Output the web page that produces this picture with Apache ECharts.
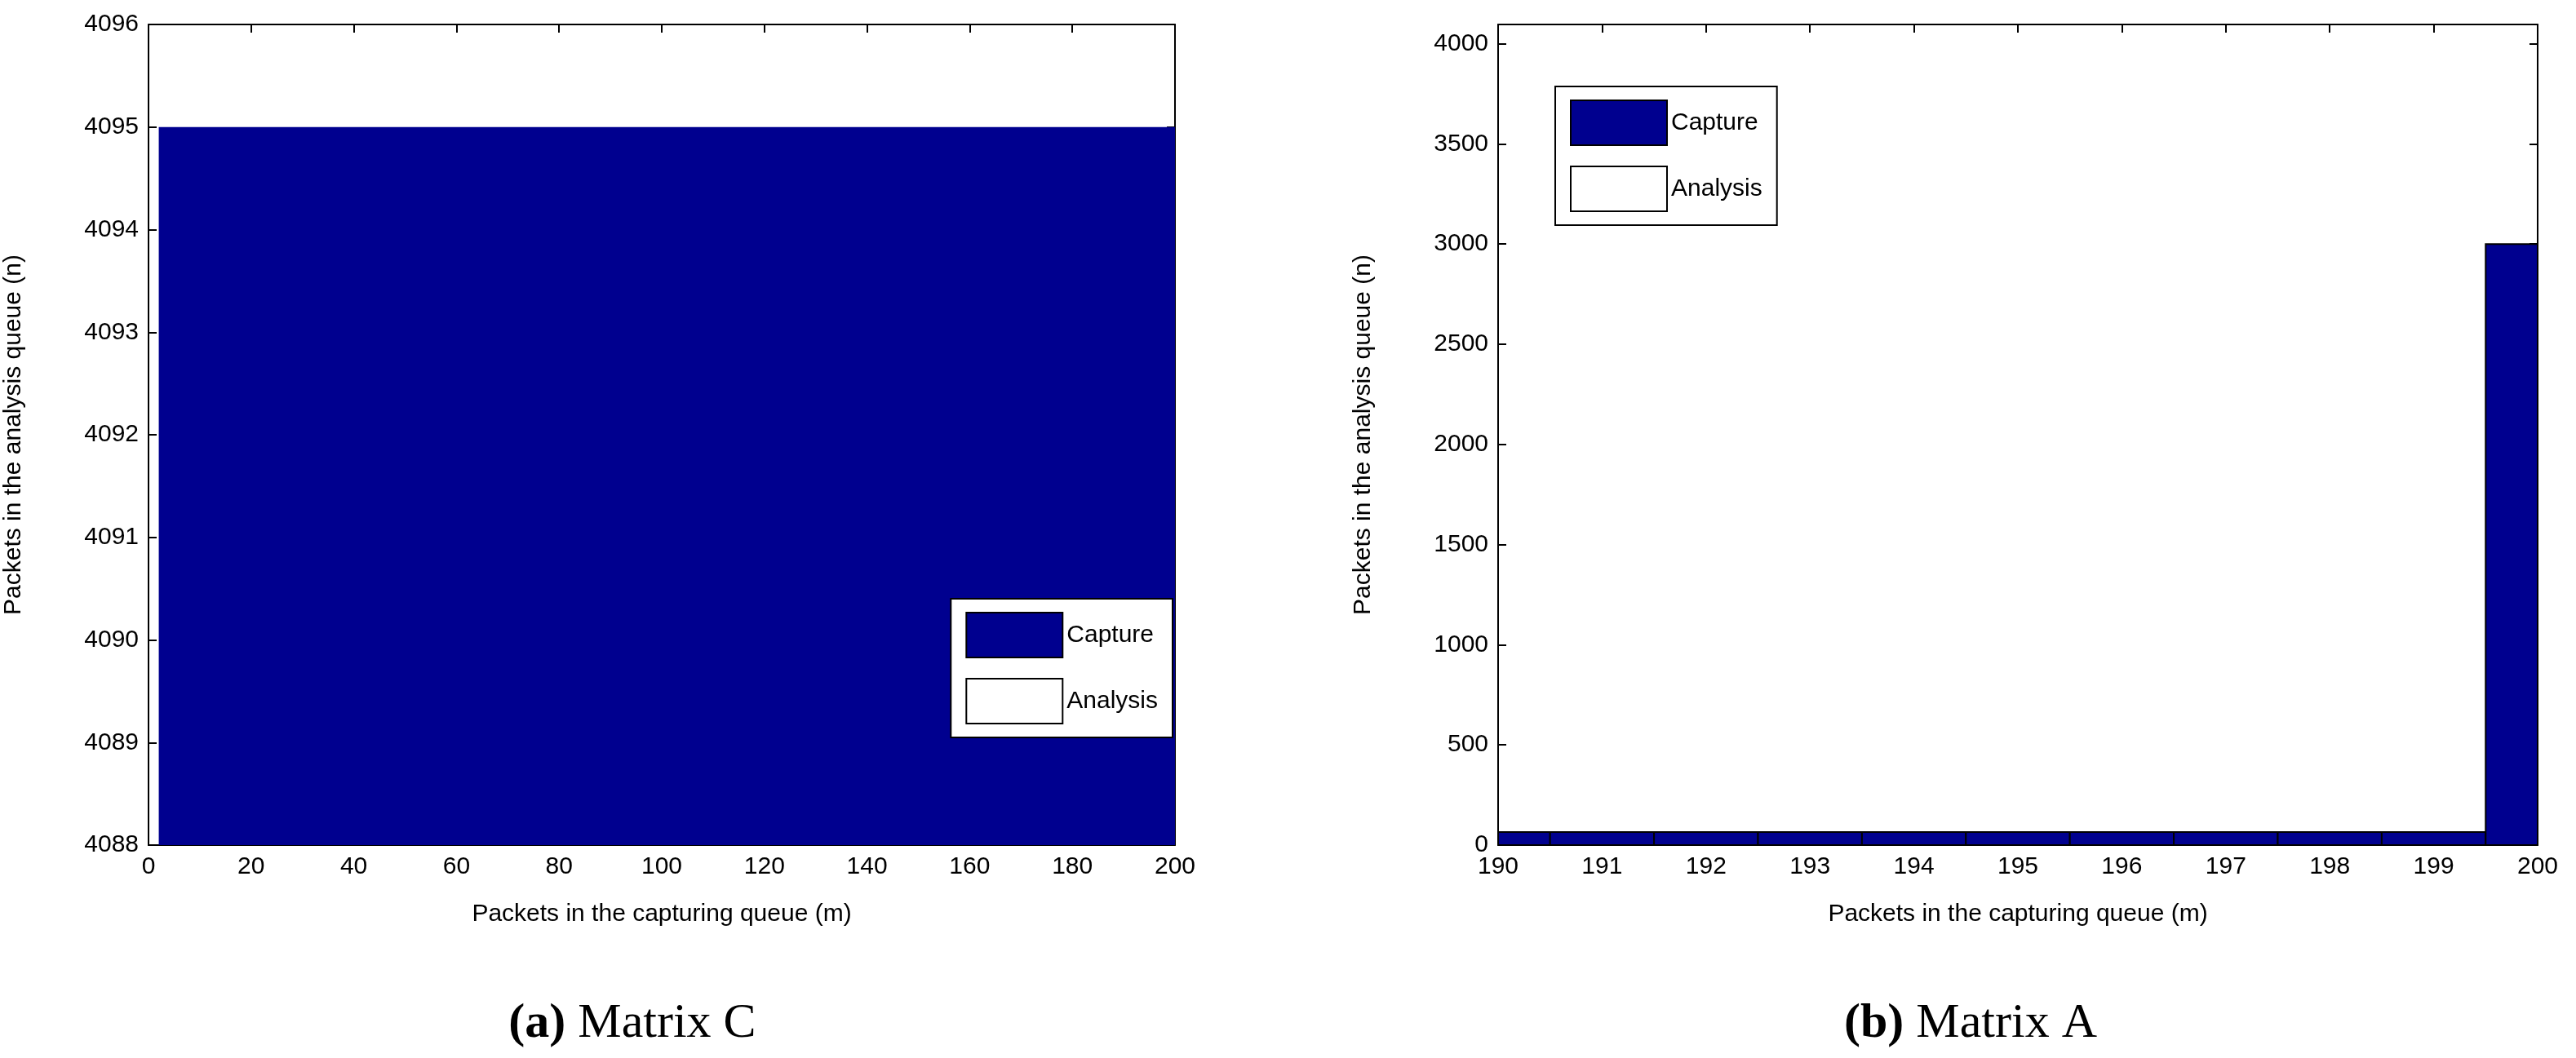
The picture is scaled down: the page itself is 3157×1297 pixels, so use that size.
<!DOCTYPE html>
<html>
<head>
<meta charset="utf-8">
<script src="https://cdn.jsdelivr.net/npm/echarts@6/dist/echarts.min.js"></script>
<style>html,body{margin:0;background:#fff}#chart{width:3157px;height:1297px}</style>
</head>
<body>
<div id="chart"></div>
<script>
// Matrix C: capture region (m range, n level)
var cRange = [2, 200];
var cLevel = 4095;
var cYMin = 4088, cYMax = 4096;
// Matrix A: per-m bar heights
var aCats = [190, 191, 192, 193, 194, 195, 196, 197, 198, 199, 200];
var aValues = [65, 65, 65, 65, 65, 65, 65, 65, 65, 65, 3000];

var navy = '#00008f';
var font = 'Liberation Sans';
var chart = echarts.init(document.getElementById('chart'));

function xAx(grid, min, max, interval, show) {
  return {
    type: 'value', gridIndex: grid, min: min, max: max, interval: interval,
    position: show ? 'bottom' : 'top',
    name: show ? 'Packets in the capturing queue (m)' : '',
    nameLocation: 'middle', nameGap: 70,
    nameTextStyle: {fontFamily: font, fontSize: 30, color: '#000'},
    axisLine: {show: true, onZero: false, lineStyle: {color: '#000', width: 2}},
    axisTick: {show: true, inside: true, length: 10, lineStyle: {color: '#000', width: 2}},
    axisLabel: {show: show, fontFamily: font, fontSize: 30, color: '#000', margin: 12},
    splitLine: {show: false}
  };
}
function yAx(grid, min, max, interval, show) {
  return {
    type: 'value', gridIndex: grid, min: min, max: max, interval: interval,
    position: show ? 'left' : 'right',
    name: show ? 'Packets in the analysis queue (n)' : '',
    nameLocation: 'middle', nameGap: 150,
    nameTextStyle: {fontFamily: font, fontSize: 30, color: '#000'},
    axisLine: {show: true, onZero: false, lineStyle: {color: '#000', width: 2}},
    axisTick: {show: true, inside: true, length: 10, lineStyle: {color: '#000', width: 2}},
    axisLabel: {show: show, fontFamily: font, fontSize: 30, color: '#000', margin: 12,
      formatter: function (v) { return v > 4000 && v < 4096 ? '' : String(v); }},
    splitLine: {show: false}
  };
}
function leftLabels(v) { return String(v); }

var yL = yAx(0, cYMin, cYMax, 1, true);
yL.axisLabel.formatter = leftLabels;
var yR = yAx(1, 0, 4096, 500, true);
yR.axisLabel.formatter = function (v) { return v > 4000 ? '' : String(v); };

var legendBase = {
  orient: 'vertical', itemWidth: 118, itemHeight: 55, itemGap: 24,
  backgroundColor: '#fff', borderColor: '#000', borderWidth: 2, padding: [16, 18, 16, 18],
  textStyle: {fontFamily: font, fontSize: 30, color: '#000'},
  data: [
    {name: 'Capture', icon: 'rect', itemStyle: {color: navy, borderColor: '#000', borderWidth: 2}},
    {name: 'Analysis', icon: 'rect', itemStyle: {color: '#fff', borderColor: '#000', borderWidth: 2}}
  ]
};

chart.setOption({
  animation: false,
  grid: [
    {left: 182, top: 30, width: 1258, height: 1006},
    {left: 1836, top: 30, width: 1274, height: 1006}
  ],
  xAxis: [xAx(0, 0, 200, 20, true), xAx(0, 0, 200, 20, false),
          xAx(1, 190, 200, 1, true), xAx(1, 190, 200, 1, false)],
  yAxis: [yL, yAx(0, cYMin, cYMax, 1, false), yR, yAx(1, 0, 4096, 500, false)],
  legend: [
    Object.assign({}, legendBase, {right: 1720, top: 734, width: 300}),
    Object.assign({}, legendBase, {left: 1906, top: 106})
  ],
  title: [
    {text: '{b|(a)} Matrix C', left: 770, top: 1220, textAlign: 'center',
     textStyle: {fontFamily: 'Liberation Serif', fontSize: 60, fontWeight: 'normal', color: '#000',
       rich: {b: {fontFamily: 'Liberation Serif', fontSize: 60, fontWeight: 'bold'}}}},
    {text: '{b|(b)} Matrix A', left: 2410, top: 1220, textAlign: 'center',
     textStyle: {fontFamily: 'Liberation Serif', fontSize: 60, fontWeight: 'normal', color: '#000',
       rich: {b: {fontFamily: 'Liberation Serif', fontSize: 60, fontWeight: 'bold'}}}}
  ],
  series: [
    {
      name: 'Capture', type: 'custom', xAxisIndex: 0, yAxisIndex: 0,
      itemStyle: {color: navy},
      data: [[cRange[0], cRange[1], cLevel]],
      renderItem: function (params, api) {
        var p0 = api.coord([api.value(0), cYMin]);
        var p1 = api.coord([api.value(1), api.value(2)]);
        return {type: 'rect', shape: {x: p0[0], y: p1[1], width: p1[0] - p0[0], height: p0[1] - p1[1]},
          style: {fill: navy}};
      }
    },
    {name: 'Analysis', type: 'custom', xAxisIndex: 0, yAxisIndex: 0, data: [],
      itemStyle: {color: '#fff'}, renderItem: function () { return null; }},
    {
      name: 'Capture', type: 'custom', xAxisIndex: 2, yAxisIndex: 2,
      itemStyle: {color: navy},
      data: aCats.map(function (c, i) { return [c, aValues[i]]; }),
      clip: true,
      renderItem: function (params, api) {
        var x = api.value(0), v = api.value(1);
        var lo = Math.max(x - 0.5, 190), hi = Math.min(x + 0.5, 200);
        var p0 = api.coord([lo, 0]);
        var p1 = api.coord([hi, v]);
        return {type: 'rect', shape: {x: p0[0], y: p1[1], width: p1[0] - p0[0], height: p0[1] - p1[1]},
          style: {fill: navy, stroke: '#000', lineWidth: 2}};
      }
    }
  ]
});
</script>
</body>
</html>
